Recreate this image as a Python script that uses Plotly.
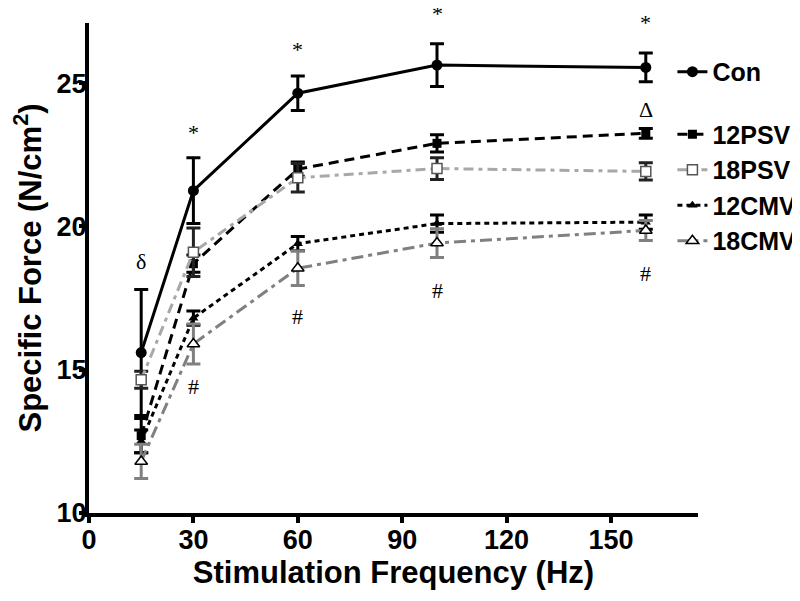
import plotly.graph_objects as go

freq = [15, 30, 60, 100, 160]

series_names = ["Con", "12PSV", "18PSV", "12CMV", "18CMV"]
con = [15.6, 21.25, 24.65, 25.63, 25.55]
con_err = [2.2, 1.15, 0.6, 0.75, 0.5]
psv12 = [12.7, 18.7, 22.0, 22.9, 23.25]
psv12_err = [0.6, 0.3, 0.25, 0.3, 0.17]
psv18 = [14.65, 19.1, 21.7, 22.02, 21.92]
psv18_err = [0.3, 0.85, 0.5, 0.38, 0.3]
cmv12 = [12.5, 16.8, 19.4, 20.1, 20.15]
cmv12_err = [0.4, 0.25, 0.25, 0.3, 0.25]
cmv18 = [11.8, 15.9, 18.54, 19.42, 19.86]
cmv18_err = [0.6, 0.7, 0.6, 0.5, 0.35]

x_ticks = [0, 30, 60, 90, 120, 150]
y_ticks = [10, 15, 20, 25]
x_range = [0, 175]
y_range = [10, 27.1]

# significance marks: (text, x, y)
marks_text = ["δ", "*", "*", "*", "*", "Δ", "#", "#", "#", "#"]
marks_x = [15, 30, 60, 100, 160, 160, 30, 60, 100, 160]
marks_y = [18.77, 23.27, 26.16, 27.44, 27.11, 24.07, 14.41, 16.85, 17.78, 18.37]

styles = {
    "Con": dict(line=dict(color="black", width=3, dash="solid"),
                marker=dict(symbol="circle", size=11, color="black"),
                ecolor="black", group="a"),
    "12PSV": dict(line=dict(color="black", width=3, dash="10px,6px"),
                  marker=dict(symbol="square", size=9, color="black"),
                  ecolor="black", group="b"),
    "18PSV": dict(line=dict(color="#a8a8a8", width=3, dash="10px,5px,4px,5px"),
                  marker=dict(symbol="square", size=10, color="white",
                              line=dict(color="#555555", width=1.5)),
                  ecolor="#222222", group="b"),
    "12CMV": dict(line=dict(color="black", width=3, dash="5px,4px"),
                  marker=dict(symbol="triangle-up", size=9, color="black"),
                  ecolor="black", group="b"),
    "18CMV": dict(line=dict(color="#808080", width=3, dash="12px,5px,4px,5px"),
                  marker=dict(symbol="triangle-up", size=11, color="white",
                              line=dict(color="black", width=1.5)),
                  ecolor="#808080", group="b"),
}

data = {"Con": (con, con_err), "12PSV": (psv12, psv12_err),
        "18PSV": (psv18, psv18_err), "12CMV": (cmv12, cmv12_err),
        "18CMV": (cmv18, cmv18_err)}

fig = go.Figure()
for name in series_names:
    vals, errs = data[name]
    st = styles[name]
    fig.add_trace(go.Scatter(
        x=freq, y=vals, name=name, mode="lines+markers",
        line=st["line"], marker=st["marker"],
        error_y=dict(type="data", array=errs, visible=True,
                     color=st["ecolor"], thickness=3, width=7),
        legendgroup=st["group"], cliponaxis=False,
    ))

# annotations placed in axis-domain units converted from data values so that
# marks above the axis range are still drawn
for t, xv, yv in zip(marks_text, marks_x, marks_y):
    fig.add_annotation(x=xv, xref="x",
                       y=(yv - y_range[0]) / (y_range[1] - y_range[0]),
                       yref="y domain", yanchor="middle", xanchor="center",
                       text=t, showarrow=False,
                       font=dict(family="Liberation Serif, Times New Roman",
                                 size=22, color="black"))

font_family = "Liberation Sans, Arial, sans-serif"
fig.update_layout(
    width=800, height=601,
    margin=dict(l=81, r=110, t=15, b=96, autoexpand=False),
    paper_bgcolor="white", plot_bgcolor="white",
    font=dict(family=font_family, color="black"),
    showlegend=True,
    legend=dict(x=0.958, y=0.947, xanchor="left", yanchor="top",
                font=dict(size=25, family=font_family, weight="bold"),
                traceorder="grouped", tracegroupgap=27,
                itemwidth=30, bgcolor="rgba(0,0,0,0)"),
    xaxis=dict(range=x_range, tickvals=x_ticks, showline=True,
               linecolor="black", linewidth=4, ticks="outside",
               ticklen=6, tickwidth=4, tickcolor="black",
               showgrid=False, zeroline=False, automargin=False,
               ticklabelstandoff=-6,
               tickfont=dict(size=27, weight="bold"),
               title=dict(text="Stimulation Frequency (Hz)",
                          font=dict(size=31, weight="bold"), standoff=8)),
    yaxis=dict(range=y_range, tickvals=y_ticks, showline=True,
               linecolor="black", linewidth=4, ticks="outside",
               ticklen=6, tickwidth=4, tickcolor="black",
               showgrid=False, zeroline=False, automargin=False,
               ticklabelstandoff=-13,
               tickfont=dict(size=27, weight="bold"),
               title=dict(text="Specific Force (N/cm<sup>2</sup>)",
                          font=dict(size=31, weight="bold"), standoff=8)),
)

fig.write_html("out.html")
